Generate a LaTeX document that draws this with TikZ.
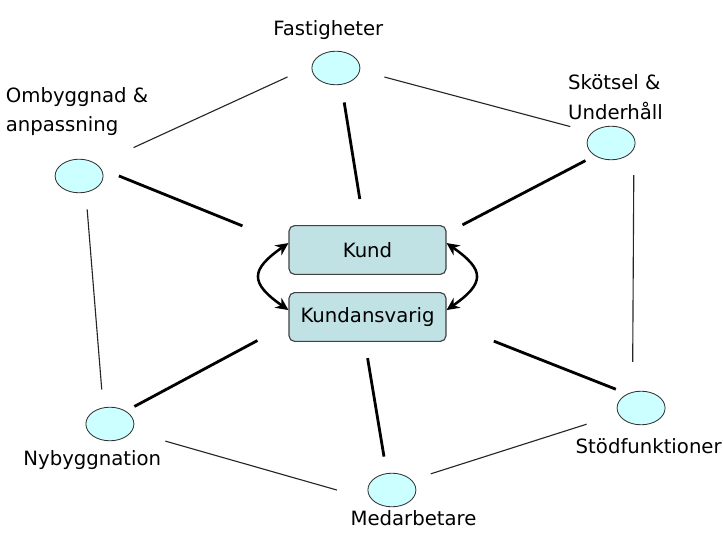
\documentclass[tikz,border=0pt]{standalone}
\usepackage{fontspec}
\setmainfont{DejaVu Sans}
\usepackage{tikz}
\usetikzlibrary{arrows.meta, positioning, shapes}
\usetikzlibrary{shapes.geometric}
\usepackage{xcolor}
\definecolor{kundblue}{RGB}{192,226,229}
\definecolor{ringcyan}{RGB}{204,255,255}

\begin{document}
\begin{tikzpicture}[node distance=1cm]
    \tikzstyle{hub} = [rectangle, draw=black!75, line width=0.8pt, fill=kundblue, minimum width=3.925cm, minimum height=1.22cm, rounded corners=4pt, font=\fontsize{14}{17}\selectfont]
    \tikzstyle{unit} = [ellipse, draw=black!80, line width=0.6pt, fill=ringcyan, minimum width=1.2cm, minimum height=0.84cm, inner sep=0pt]
    \tikzstyle{lbl} = [align=left, inner sep=0pt, font=\fontsize{14}{21}\selectfont]
    \tikzstyle{weak} = [draw=black!85, line width=0.8pt]
    \tikzstyle{strong} = [draw, line width=2pt]
    \tikzstyle{twoway} = [draw, line width=1.8pt, >={Stealth[length=9pt,width=8.5pt]}, <->]

    \useasboundingbox (-9.1875,-7.15) rectangle (8.8875,6.25);

    % noder i mitten
    \node[hub] (kund) {Kund};
    \node[hub, below of=kund, yshift=-0.675cm] (ansvar) {Kundansvarig};

    % ellipser runt om
    \node[unit, above of=kund, xshift=-0.79cm, yshift=3.55cm] (fast) {};
    \node[unit, left of=kund, xshift=-6.21cm, yshift=1.85cm] (omb) {};
    \node[unit, right of=kund, xshift=5.09cm, yshift=2.675cm] (skot) {};
    \node[unit, left of=ansvar, xshift=-5.44cm, yshift=-2.675cm] (nyb) {};
    \node[unit, below of=ansvar, xshift=0.61cm, yshift=-3.325cm] (med) {};
    \node[unit, right of=ansvar, xshift=5.84cm, yshift=-2.275cm] (stod) {};

    % etiketter
    \node[lbl, above of=fast, xshift=-0.19cm, yshift=-0.06cm] (fastlbl) {Fastigheter};
    \node[lbl, above of=omb, xshift=-0.05cm, yshift=0.61cm] (omblbl) {Ombyggnad \&\\anpassning};
    \node[lbl, above of=skot, xshift=0.11cm, yshift=0.15cm] (skotlbl) {Skötsel \&\\Underhåll};
    \node[lbl, below of=nyb, xshift=-0.44cm, yshift=0.1cm] (nyblbl) {Nybyggnation};
    \node[lbl, below of=med, xshift=0.54cm, yshift=0.3cm] (medlbl) {Medarbetare};
    \node[lbl, below of=stod, xshift=0.19cm, yshift=0.05cm] (stodlbl) {Stödfunktioner};

    % tunna linjer i ringen
    \path[weak, shorten <=1.005cm, shorten >=0.665cm] (omb.33) -- (fast.175);
    \path[weak, shorten <=0.63cm, shorten >=0.56cm] (fast.-6) -- (skot.151);
    \path[weak, shorten <=0.65cm, shorten >=0.75cm] (skot.-15) -- (stod.118);
    \path[weak, shorten <=0.42cm, shorten >=0.45cm] (omb.-68) -- (nyb.112);
    \path[weak, shorten <=0.87cm, shorten >=0.915cm] (nyb.-19) -- (med.207);
    \path[weak, shorten <=0.5cm, shorten >=0.83cm] (med.27) -- (stod.195);

    % tjocka linjer mot mitten
    \path[strong, shorten <=0.475cm, shorten >=1.24cm] (omb.18) -- (kund.176);
    \path[strong, shorten <=0.446cm, shorten >=0.66cm] (fast.-72) -- (kund.98);
    \path[strong, shorten <=0.26cm, shorten >=0.45cm] (skot.218) -- (kund.12);
    \path[strong, shorten <=0.24cm, shorten >=0.88cm] (nyb.39) -- (ansvar.185);
    \path[strong, shorten <=0.41cm, shorten >=0.42cm] (ansvar.264) -- (med.107);
    \path[strong, shorten <=0.31cm, shorten >=1.27cm] (stod.134) -- (ansvar.-4);

    % pilar mellan kund och kundansvarig
    \path[twoway] (kund.175) to[out=215, in=145, looseness=1.8] (ansvar.175);
    \path[twoway] (kund.5) to[out=-35, in=35, looseness=1.8] (ansvar.5);
\end{tikzpicture}
\end{document}
